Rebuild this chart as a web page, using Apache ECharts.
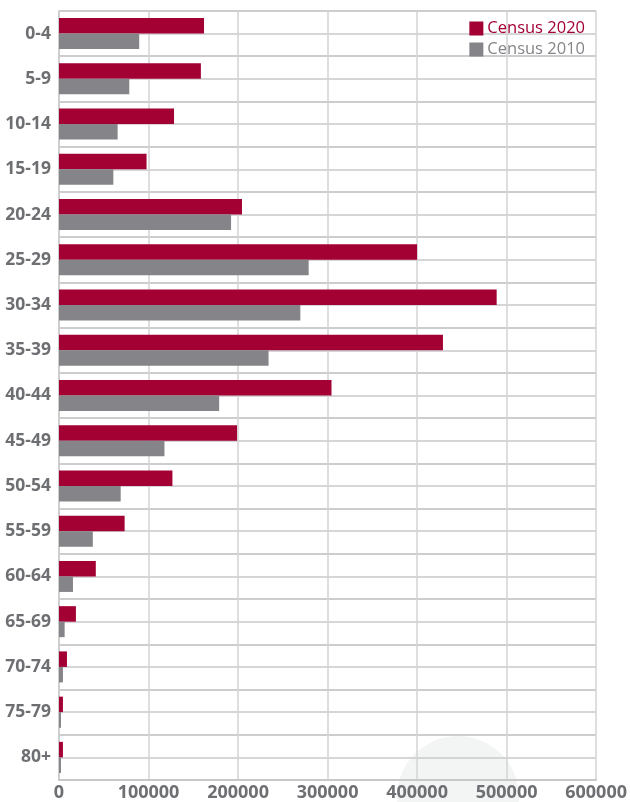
<!DOCTYPE html>
<html>
<head>
<meta charset="utf-8">
<script src="https://cdn.jsdelivr.net/npm/echarts@6/dist/echarts.min.js"></script>
<style>html,body{margin:0;padding:0;background:#fff}#c{width:630px;height:802px}</style>
</head>
<body>
<div id="c"></div>
<script>
const categories = ['0-4','5-9','10-14','15-19','20-24','25-29','30-34','35-39','40-44','45-49','50-54','55-59','60-64','65-69','70-74','75-79','80+'];
const census2020 = [162000,158500,128500,97800,204400,400000,488900,428900,304400,198900,126700,73300,41100,18900,8900,4400,4400];
const census2010 = [89600,78500,65500,60700,192200,278900,269600,234100,178900,117800,68900,37800,15600,6300,4400,2200,2200];
const xTicks = [0,100000,200000,300000,400000,500000,600000];
const halfCats = [];
categories.forEach(c => { halfCats.push(c + 'a'); halfCats.push(c + 'b'); });

const RED = '#a30034', GREY = '#858589', LBL = '#6e6f72', GRID = '#d3d3d5';
const chart = echarts.init(document.getElementById('c'));
chart.setOption({
  animation: false,
  backgroundColor: '#fff',
  graphic: [{ type: 'circle', shape: { cx: 458, cy: 797, r: 61 }, style: { fill: '#f3f5f4' }, z: -10 }],
  grid: { left: 59, right: 31, top: 11, bottom: 21, containLabel: false },
  legend: {
    orient: 'vertical', right: 40, top: 15, itemWidth: 14, itemHeight: 14, itemGap: 4,
    icon: 'rect',
    textStyle: { fontFamily: 'Open Sans', fontSize: 16.5, padding: [0, 0, 0, -1] },
    data: [
      { name: 'Census 2020', textStyle: { color: RED } },
      { name: 'Census 2010', textStyle: { color: GREY } }
    ]
  },
  xAxis: {
    type: 'value', min: xTicks[0], max: xTicks[xTicks.length - 1], interval: 100000,
    axisLine: { show: true, lineStyle: { color: '#c8c8ca', width: 2 } },
    axisTick: { show: false },
    axisLabel: { color: LBL, fontFamily: 'Open Sans', fontWeight: 'bold', fontSize: 18, margin: 4, formatter: v => String(v) },
    splitLine: { show: true, lineStyle: { color: GRID, width: 1.5 } }
  },
  yAxis: [{
    type: 'category', data: categories, inverse: true,
    axisLine: { show: true, lineStyle: { color: '#c8c8ca', width: 1.5 } },
    axisTick: { show: false },
    axisLabel: { color: LBL, fontFamily: 'Open Sans', fontWeight: 'bold', fontSize: 17.5, margin: 8 },
    splitLine: { show: true, lineStyle: { color: '#cfcfd1', width: 1.5 } }
  }, {
    type: 'category', data: halfCats, inverse: true, position: 'right',
    axisLine: { show: false }, axisTick: { show: false }, axisLabel: { show: false },
    splitLine: { show: true, lineStyle: { color: '#c9c9cb', width: 1.5 } }
  }],
  series: [
    { name: 'Census 2020', type: 'bar', yAxisIndex: 0, data: census2020, barWidth: 15.5, barGap: '0%', itemStyle: { color: RED }, z: 3 },
    { name: 'Census 2010', type: 'bar', yAxisIndex: 0, data: census2010, barWidth: 15.5, barGap: '0%', itemStyle: { color: GREY }, z: 3 }
  ]
});
</script>
</body>
</html>
